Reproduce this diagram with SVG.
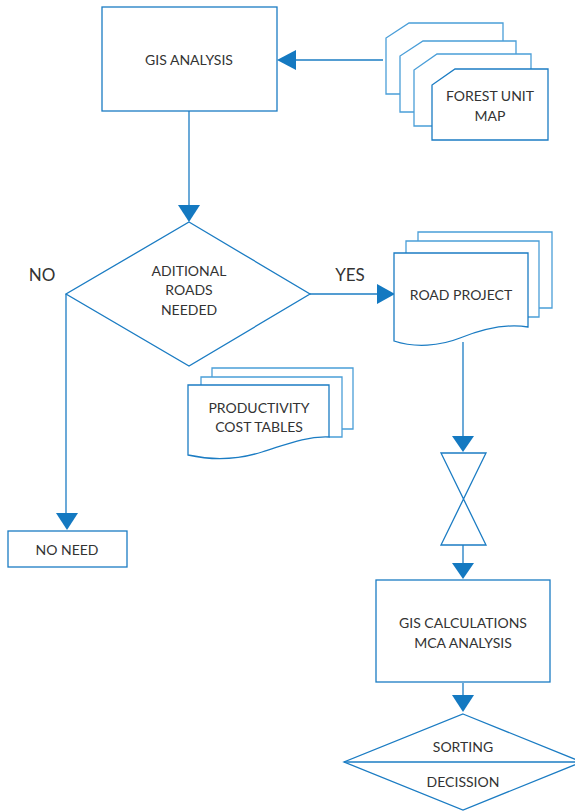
<svg xmlns="http://www.w3.org/2000/svg" width="575" height="812" viewBox="0 0 575 812">
<style>
.s{fill:#fff;stroke:#1b7cc3;stroke-width:1.3}
.b{fill:none;stroke:#4a9ed8;stroke-width:1.3}
.bw{fill:#fff;stroke:#4a9ed8;stroke-width:1.3}
.c{fill:none;stroke:#1b7cc3;stroke-width:1.3}
.a{fill:#1479c1;stroke:none}
text{font-family:"Lato","Open Sans",sans-serif;font-size:14px;fill:#333;text-anchor:middle}
.big{font-size:17px}
</style>
<rect width="575" height="812" fill="#fff"/>
<g id="connectors">
<line class="c" x1="383" y1="60" x2="294" y2="60"/>
<polygon class="a" points="277,60 296,50 296,70"/>
<line class="c" x1="189" y1="111" x2="189" y2="207"/>
<polygon class="a" points="189,222 178,205 200,205"/>
<line class="c" x1="310" y1="294" x2="379" y2="294"/>
<polygon class="a" points="395,294 377,284 377,304"/>
<line class="c" x1="66" y1="294" x2="66" y2="515"/>
<polygon class="a" points="67,530 56,513 78,513"/>
<line class="c" x1="463" y1="342" x2="463" y2="438"/>
<polygon class="a" points="463,452 452,436 474,436"/>
<line class="c" x1="463" y1="545" x2="463" y2="565"/>
<polygon class="a" points="463,579 452,563 474,563"/>
<line class="c" x1="463" y1="683" x2="463" y2="697"/>
<polygon class="a" points="463,712 452,695 474,695"/>
</g>
<g id="gis-analysis">
<rect class="s" x="102" y="7" width="175" height="104"/>
<text x="189" y="65">GIS ANALYSIS</text>
</g>
<g id="forest-unit-map">
<path class="bw" d="M386,94 V38 L409,23 H503 V94 Z"/>
<path class="bw" d="M400,112 V56 L423,41 H516 V112 Z"/>
<path class="bw" d="M414,126 V70 L437,54 H531 V126 Z"/>
<path class="s" d="M432,140 V85 L455,69 H548 V140 Z"/>
<text x="490" y="101">FOREST UNIT</text>
<text x="490" y="121">MAP</text>
</g>
<g id="additional-roads">
<polygon class="s" points="189,222 310,294 189,366 66,294"/>
<text x="189" y="276">ADITIONAL</text>
<text x="189" y="295">ROADS</text>
<text x="189" y="315">NEEDED</text>
</g>
<text class="big" x="42" y="281">NO</text>
<text class="big" x="350" y="281">YES</text>
<g id="road-project">
<polyline class="b" points="418,241 418,232 552,232 552,308 539,308"/>
<polyline class="b" points="406,253 406,241 539,241 539,317 528,317"/>
<path class="s" d="M394,253 H528 V327 C505,323 480,330 460,338 C440,346 415,348 394,341 Z"/>
<text x="461" y="300">ROAD PROJECT</text>
</g>
<g id="productivity-cost-tables">
<polyline class="b" points="212,377 212,368 353,368 353,429 342,429"/>
<polyline class="b" points="201,385 201,377 342,377 342,437 329,437"/>
<path class="s" d="M188,385 H329 V437 C305,436 285,445 262,452 C240,459 215,461 188,455 Z"/>
<text x="259" y="413">PRODUCTIVITY</text>
<text x="259" y="432">COST TABLES</text>
</g>
<g id="no-need">
<rect class="s" x="8" y="531" width="119" height="36"/>
<text x="67" y="555">NO NEED</text>
</g>
<g id="hourglass">
<polygon class="s" points="441,453 486,453 441,545 486,545"/>
</g>
<g id="gis-calculations">
<rect class="s" x="376" y="580" width="174" height="102"/>
<text x="463" y="628">GIS CALCULATIONS</text>
<text x="463" y="648">MCA ANALYSIS</text>
</g>
<g id="sorting-decision">
<polygon class="s" points="463,714 582,762 463,810 344,762"/>
<line class="c" x1="344" y1="762" x2="582" y2="762"/>
<text x="463" y="752">SORTING</text>
<text x="463" y="787">DECISSION</text>
</g>
</svg>
